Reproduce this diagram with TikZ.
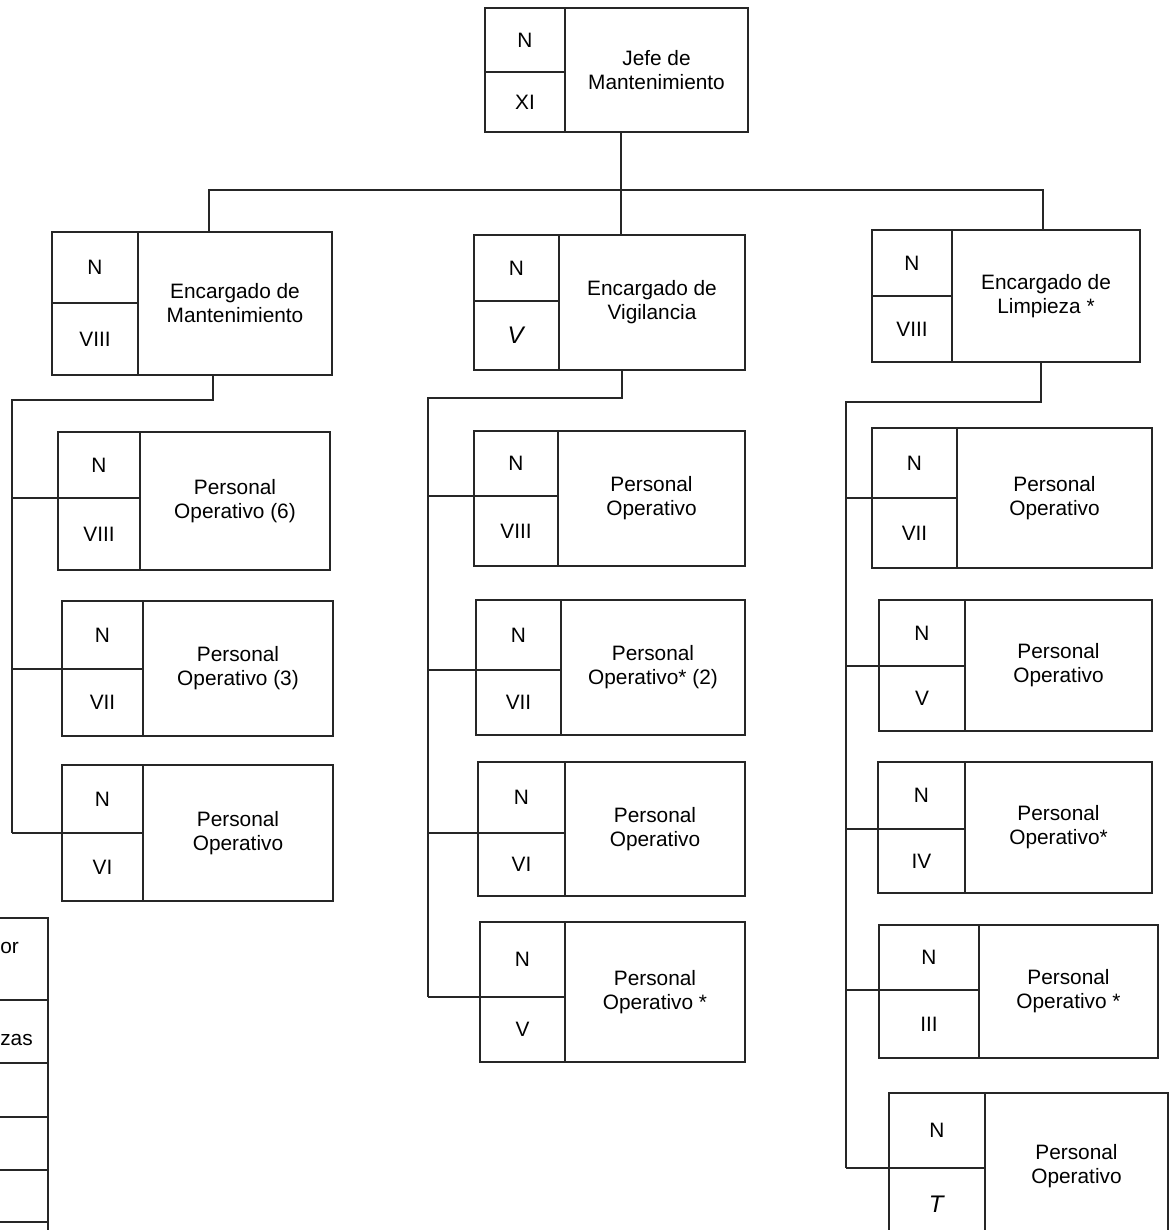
\documentclass[tikz,border=0pt]{standalone}
\usepackage{fontspec}
\setmainfont{Liberation Sans}
\usetikzlibrary{positioning, fit, calc}
\tikzset{
  caja/.style={draw=black!85, line width=1pt, inner sep=0pt},
  linea/.style={draw=black!85, line width=1pt},
  nivel/.style={font=\fontsize{12.5}{15}\selectfont},
  mano/.style={font=\fontsize{20}{20}\selectfont\itshape},
  cargo/.style={align=center, font=\fontsize{12.5}{14.4}\selectfont},
}
% name, x1, y1, x2, y2, divider x, split y, level, title
\newcommand{\puesto}[9]{%
  \node[caja, fit={(#2,#3) (#4,#5)}] (#1) {};
  \draw[linea] (#6,#3) -- (#6,#5);
  \draw[linea] (#2,#7) -- (#6,#7);
  \coordinate (#1-s) at (#2,#7);
  \node[nivel] (#1-n) at ({(#2+#6)/2},{(#3+#7)/2}) {N};
  \node[nivel] (#1-g) at ({(#2+#6)/2},{(#7+#5)/2}) {#8};
  \node[cargo] (#1-t) at ({(#6+#4)/2},{(#3+#5)/2}) {#9};
}

\begin{document}
\begin{tikzpicture}[x=0.6pt, y=-0.6pt]
    \useasboundingbox (0,0) rectangle (1170,1230);

    % Top
    \puesto{jefe}{485}{8}{748}{132}{565}{72}{XI}{Jefe de\\Mantenimiento}

    % Second level
    \puesto{mant}{52}{232}{332}{375}{138}{303}{VIII}{Encargado de\\Mantenimiento}
    \puesto{vig}{474}{235}{745}{370}{559}{301}{\textit{\Large V}}{Encargado de\\Vigilancia}
    \puesto{limp}{872}{230}{1140}{362}{952}{296}{VIII}{Encargado de\\Limpieza *}

    % Mantenimiento staff
    \puesto{m1}{58}{432}{330}{570}{140}{498}{VIII}{Personal\\Operativo (6)}
    \puesto{m2}{62}{601}{333}{736}{143}{669}{VII}{Personal\\Operativo (3)}
    \puesto{m3}{62}{765}{333}{901}{143}{833}{VI}{Personal\\Operativo}

    % Vigilancia staff
    \puesto{v1}{474}{431}{745}{566}{558}{496}{VIII}{Personal\\Operativo}
    \puesto{v2}{476}{600}{745}{735}{561}{670}{VII}{Personal\\Operativo* (2)}
    \puesto{v3}{478}{762}{745}{896}{565}{833}{VI}{Personal\\Operativo}
    \puesto{v4}{480}{922}{745}{1062}{565}{997}{V}{Personal\\Operativo *}

    % Limpieza staff
    \puesto{l1}{872}{428}{1152}{568}{957}{498}{VII}{Personal\\Operativo}
    \puesto{l2}{879}{600}{1152}{731}{965}{666}{V}{Personal\\Operativo}
    \puesto{l3}{878}{762}{1152}{893}{965}{829}{IV}{Personal\\Operativo*}
    \puesto{l4}{879}{925}{1158}{1058}{979}{990}{III}{Personal\\Operativo *}
    \puesto{l5}{889}{1093}{1168}{1240}{985}{1168}{\textit{\Large T}}{Personal\\Operativo}

    % Connectors from the top
    \coordinate (bus-l) at (209,190);
    \coordinate (bus-c) at (621,190);
    \coordinate (bus-r) at (1043,190);
    \draw[linea] (bus-c |- jefe.south) -- (bus-c |- vig.north);
    \draw[linea] (bus-l |- mant.north) -- (bus-l) -- (bus-r) -- (bus-r |- limp.north);

    % Trunks to the staff
    \coordinate (tm) at (213,400);
    \coordinate (tm-end) at (12,833);
    \draw[linea] (tm |- mant.south) -- (tm) -| (tm-end);
    \foreach \p in {m1,m2,m3} \draw[linea] (tm-end |- \p-s) -- (\p-s);

    \coordinate (tv) at (622,398);
    \coordinate (tv-end) at (428,997);
    \draw[linea] (tv |- vig.south) -- (tv) -| (tv-end);
    \foreach \p in {v1,v2,v3,v4} \draw[linea] (tv-end |- \p-s) -- (\p-s);

    \coordinate (tl) at (1041,402);
    \coordinate (tl-end) at (846,1168);
    \draw[linea] (tl |- limp.south) -- (tl) -| (tl-end);
    \foreach \p in {l1,l2,l3,l4,l5} \draw[linea] (tl-end |- \p-s) -- (\p-s);

    % Cut-off table at the bottom left
    \draw[linea, line width=1.4pt] (-10,918) -- (48,918) -- (48,1240);
    \foreach \y in {1000,1063,1117,1170,1222} \draw[linea, line width=1.4pt] (-10,\y) -- (48,\y);
    \node[cargo, anchor=west, inner sep=0pt] (tab-a) at (0,948) {or};
    \node[cargo, anchor=west, inner sep=0pt] (tab-b) at (0,1040) {zas};
\end{tikzpicture}
\end{document}
